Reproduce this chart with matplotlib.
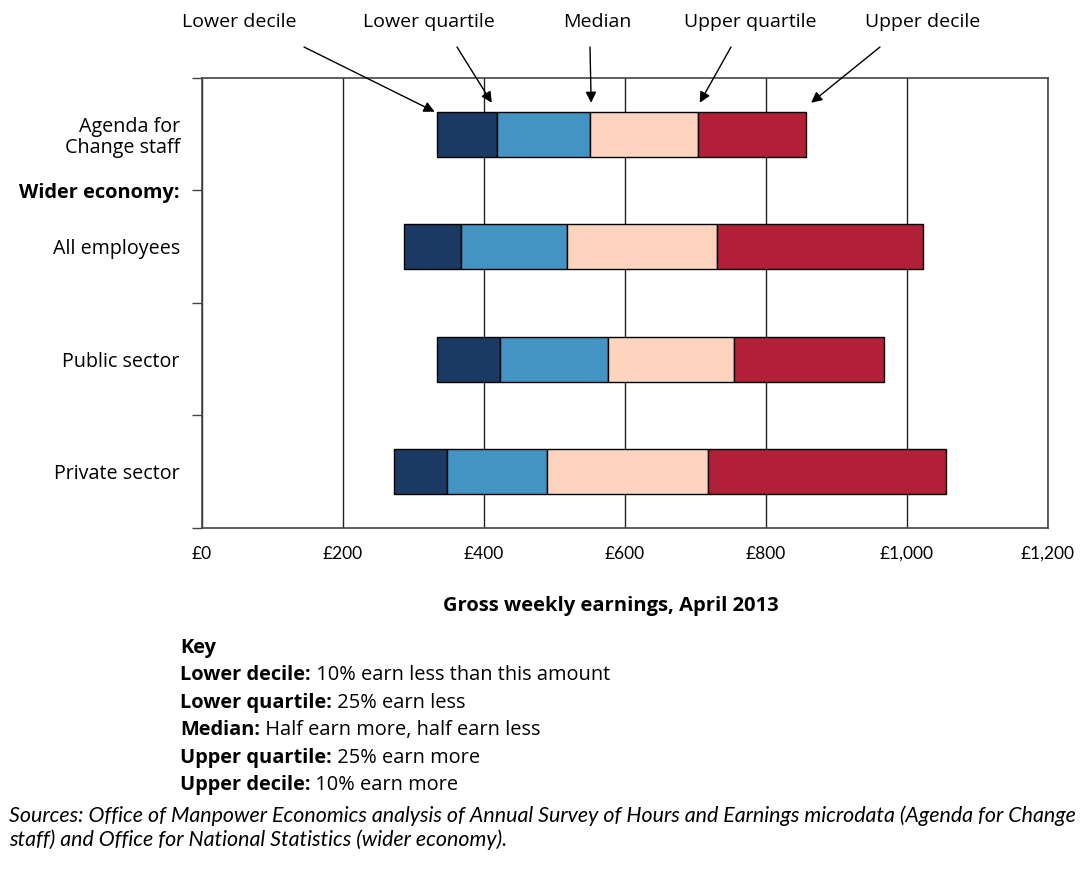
import matplotlib
matplotlib.use('Agg')
import matplotlib.pyplot as plt
import matplotlib.ticker as ticker

plt.rcParams['font.family'] = ['Open Sans', 'DejaVu Sans']

# Earnings at each point of the distribution (GBP per week)
groups = ['Agenda for\nChange staff', 'All employees', 'Public sector', 'Private sector']
lower_decile = [334, 287, 334, 273]
lower_quartile = [419, 367, 422, 347]
median = [551, 518, 576, 490]
upper_quartile = [704, 731, 754, 718]
upper_decile = [857, 1023, 968, 1055]

segment_names = ['Lower decile', 'Lower quartile', 'Median', 'Upper quartile', 'Upper decile']
colors = ['#1b3a63', '#4393c3', '#fdd5be', '#b22037']

key_terms = ['Lower decile:', 'Lower quartile:', 'Median:', 'Upper quartile:', 'Upper decile:']
key_desc = [' 10% earn less than this amount', ' 25% earn less', ' Half earn more, half earn less',
            ' 25% earn more', ' 10% earn more']

W, H = 1083, 889
fig = plt.figure(figsize=(W / 100, H / 100), dpi=100)
ax = fig.add_axes([202 / W, 1 - 528 / H, 846 / W, 450 / H])

ypos = [i + 0.5 for i in range(len(groups))]
points = [lower_decile, lower_quartile, median, upper_quartile, upper_decile]
for k in range(4):
    starts = points[k]
    widths = [b - a for a, b in zip(points[k], points[k + 1])]
    ax.barh(ypos, widths, left=starts, height=0.4, color=colors[k],
            edgecolor='black', linewidth=1, zorder=3)

ax.set_xlim(0, 1200)
ax.set_ylim(4, 0)
ax.xaxis.set_major_locator(ticker.MultipleLocator(200))
ax.xaxis.set_major_formatter(ticker.FuncFormatter(lambda v, p: f'£{v:,.0f}'))
ax.xaxis.grid(True, color='#222222', linewidth=1)
ax.set_axisbelow(True)
ax.tick_params(axis='x', length=0, pad=13)
for lab in ax.get_xticklabels():
    lab.set_fontfamily(['Lato', 'DejaVu Sans'])
    lab.set_fontsize(12.5)

ax.set_yticks([0, 1, 2, 3, 4])
ax.set_yticklabels(['', 'Wider economy:', '', '', ''], fontweight='bold', fontsize=14.4)
ax.set_yticks(ypos, minor=True)
ax.set_yticklabels(groups, minor=True, fontsize=14.2, linespacing=1.1)
ax.tick_params(axis='y', which='major', length=7, width=1, pad=9, color='#444444')
ax.tick_params(axis='y', which='minor', length=0, pad=16)

for s in ax.spines.values():
    s.set_color('#444444')
    s.set_linewidth(1.2)

fig.text(611 / W, 1 - 606 / H, 'Gross weekly earnings, April 2013', ha='center', va='center',
         fontsize=14.5, fontweight='bold')

# Labels and arrows above the first bar
label_x = [239, 429, 597, 750, 923]
tail_x = [304, 457, 590, 731, 880]
tip_y = [0.30, 0.22, 0.22, 0.22, 0.22]
tip_shift = [-4, -8, 1, 2, 7]
for name, lx, tx, ty, v, dv in zip(segment_names, label_x, tail_x, tip_y,
                                   [p[0] for p in points], tip_shift):
    fig.text(lx / W, 1 - 22 / H, name, ha='center', va='center', fontsize=14)
    ax.annotate('', xy=(v + dv, ty), xycoords='data',
                xytext=(tx, H - 47), textcoords='figure pixels',
                arrowprops=dict(arrowstyle='-|>', color='black', lw=1,
                                mutation_scale=16, shrinkA=0, shrinkB=0),
                annotation_clip=False)

# Key
fig.text(180 / W, 1 - 648 / H, 'Key', ha='left', va='center', fontsize=14.4, fontweight='bold')
for i, (term, desc) in enumerate(zip(key_terms, key_desc)):
    y = 1 - (675 + i * 27.6) / H
    t = fig.text(180 / W, y, term, ha='left', va='center', fontsize=14.4, fontweight='bold')
    ax.annotate(desc, xy=(1, 0), xycoords=t, ha='left', va='bottom', fontsize=14.4,
                annotation_clip=False)

src_font = dict(ha='left', va='center', fontsize=15.4, style='italic',
                family=['Lato', 'DejaVu Sans'])
fig.text(9 / W, 1 - 816 / H,
         'Sources: Office of Manpower Economics analysis of Annual Survey of Hours and Earnings '
         'microdata (Agenda for Change', **src_font)
fig.text(9 / W, 1 - 840 / H, 'staff) and Office for National Statistics (wider economy).',
         **src_font)

fig.savefig('out.png', dpi=100)
